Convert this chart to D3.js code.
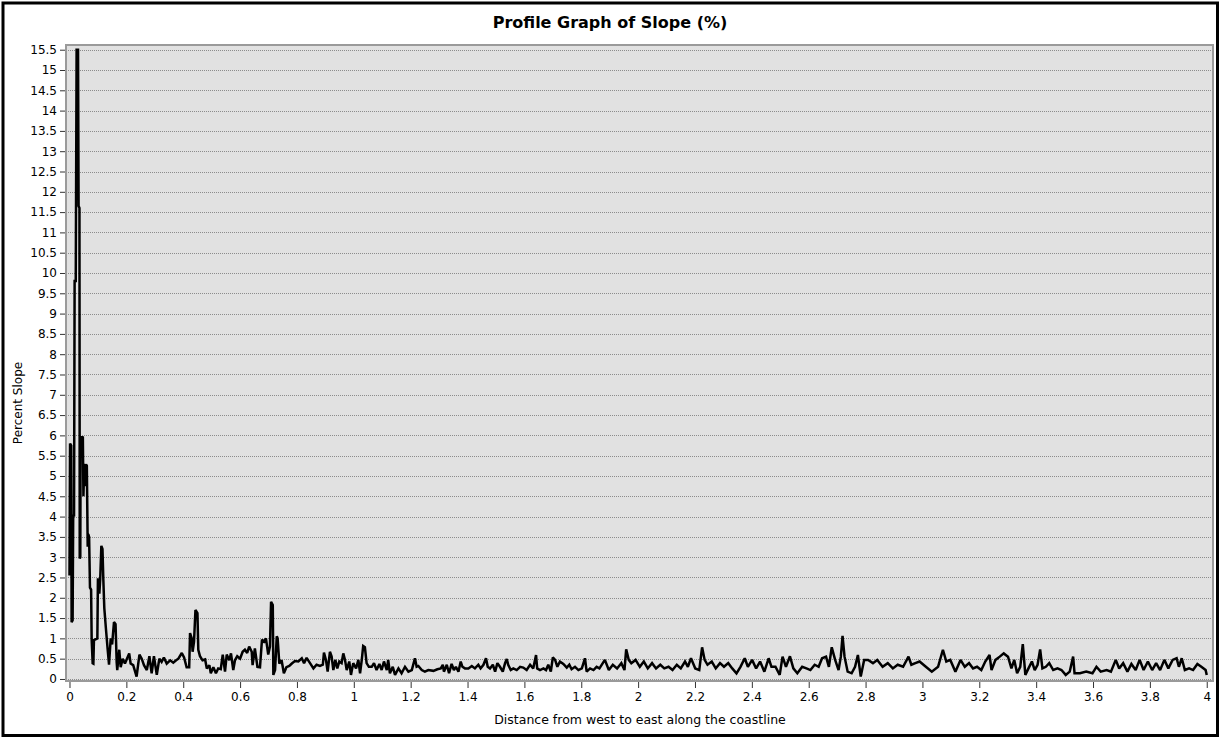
<!DOCTYPE html>
<html>
<head>
<meta charset="utf-8">
<script src="https://cdn.jsdelivr.net/npm/d3@7"></script>
<style>
  html, body { margin: 0; padding: 0; background: #ffffff; }
  svg { display: block; }
  text { font-family: "DejaVu Sans", Verdana, sans-serif; }
</style>
</head>
<body>
<div id="chart"></div>
<script>
// ---- Data ----
const chartTitle = "Profile Graph of Slope (%)";
const xLabel = "Distance from west to east along the coastline";
const yLabel = "Percent Slope";

const xTicks = [0, 0.2, 0.4, 0.6, 0.8, 1, 1.2, 1.4, 1.6, 1.8, 2, 2.2, 2.4, 2.6, 2.8, 3, 3.2, 3.4, 3.6, 3.8, 4];
const yTicks = [0, 0.5, 1, 1.5, 2, 2.5, 3, 3.5, 4, 4.5, 5, 5.5, 6, 6.5, 7, 7.5, 8, 8.5, 9, 9.5, 10, 10.5, 11, 11.5, 12, 12.5, 13, 13.5, 14, 14.5, 15, 15.5];

const distance = [
  0.000, 0.002, 0.006, 0.0075, 0.011, 0.013, 0.016, 0.018, 0.022, 0.025, 0.030, 0.032, 0.035, 0.036, 0.038, 0.039,
  0.047, 0.049, 0.052, 0.0545, 0.058, 0.061, 0.064, 0.066, 0.069, 0.072, 0.076, 0.078, 0.0815, 0.084, 0.086, 0.098,
  0.100, 0.105, 0.108, 0.112, 0.116, 0.119, 0.1225, 0.128, 0.134, 0.139, 0.145, 0.150, 0.1565, 0.162, 0.166, 0.168,
  0.175, 0.180, 0.187, 0.195, 0.201, 0.210, 0.215, 0.224, 0.236, 0.246, 0.254, 0.262, 0.272, 0.281, 0.289, 0.297,
  0.307, 0.316, 0.324, 0.332, 0.342, 0.354, 0.365, 0.375, 0.383, 0.395, 0.403, 0.412, 0.421, 0.424, 0.430, 0.433,
  0.438, 0.443, 0.450, 0.453, 0.459, 0.468, 0.477, 0.483, 0.492, 0.497, 0.506, 0.515, 0.523, 0.532, 0.539, 0.547,
  0.553, 0.562, 0.568, 0.576, 0.582, 0.590, 0.600, 0.609, 0.617, 0.625, 0.632, 0.641, 0.644, 0.652, 0.661, 0.670,
  0.677, 0.684, 0.691, 0.699, 0.705, 0.709, 0.715, 0.717, 0.723, 0.729, 0.732, 0.738, 0.746, 0.754, 0.763, 0.773,
  0.782, 0.793, 0.805, 0.817, 0.825, 0.834, 0.846, 0.858, 0.869, 0.881, 0.891, 0.895, 0.902, 0.908, 0.916, 0.922,
  0.928, 0.935, 0.942, 0.949, 0.957, 0.963, 0.969, 0.975, 0.984, 0.990, 0.998, 1.008, 1.016, 1.022, 1.028, 1.033,
  1.039, 1.045, 1.053, 1.063, 1.071, 1.080, 1.090, 1.098, 1.106, 1.116, 1.121, 1.127, 1.137, 1.145, 1.157, 1.168,
  1.180, 1.192, 1.204, 1.215, 1.221, 1.227, 1.239, 1.250, 1.262, 1.280, 1.294, 1.306, 1.313, 1.317, 1.327, 1.335,
  1.344, 1.352, 1.359, 1.368, 1.376, 1.382, 1.391, 1.403, 1.415, 1.426, 1.438, 1.446, 1.456, 1.465, 1.471, 1.479,
  1.489, 1.497, 1.505, 1.514, 1.524, 1.532, 1.538, 1.543, 1.552, 1.561, 1.573, 1.585, 1.596, 1.608, 1.620, 1.631,
  1.641, 1.645, 1.655, 1.667, 1.676, 1.684, 1.693, 1.700, 1.708, 1.716, 1.725, 1.737, 1.749, 1.758, 1.766, 1.778,
  1.790, 1.802, 1.813, 1.819, 1.831, 1.843, 1.854, 1.864, 1.883, 1.897, 1.911, 1.926, 1.941, 1.952, 1.958, 1.967,
  1.976, 1.991, 2.006, 2.020, 2.034, 2.049, 2.063, 2.078, 2.092, 2.107, 2.121, 2.136, 2.150, 2.165, 2.175, 2.186,
  2.201, 2.215, 2.225, 2.234, 2.244, 2.259, 2.273, 2.288, 2.302, 2.317, 2.331, 2.346, 2.360, 2.375, 2.386, 2.401,
  2.415, 2.429, 2.444, 2.459, 2.469, 2.483, 2.498, 2.508, 2.520, 2.534, 2.546, 2.560, 2.577, 2.592, 2.606, 2.621,
  2.635, 2.647, 2.661, 2.671, 2.681, 2.693, 2.705, 2.713, 2.719, 2.726, 2.737, 2.751, 2.763, 2.773, 2.783, 2.795,
  2.809, 2.826, 2.841, 2.860, 2.878, 2.896, 2.913, 2.932, 2.951, 2.961, 2.975, 2.990, 3.012, 3.033, 3.055, 3.072,
  3.084, 3.098, 3.116, 3.134, 3.149, 3.164, 3.178, 3.192, 3.207, 3.221, 3.236, 3.243, 3.257, 3.272, 3.286, 3.301,
  3.313, 3.323, 3.333, 3.344, 3.353, 3.362, 3.373, 3.385, 3.395, 3.405, 3.414, 3.422, 3.434, 3.446, 3.460, 3.475,
  3.489, 3.504, 3.518, 3.530, 3.535, 3.554, 3.576, 3.598, 3.612, 3.627, 3.648, 3.663, 3.680, 3.692, 3.706, 3.721,
  3.735, 3.750, 3.764, 3.778, 3.793, 3.808, 3.822, 3.836, 3.851, 3.865, 3.880, 3.894, 3.902, 3.912, 3.923, 3.938,
  3.952, 3.967, 3.981, 3.996, 4.000
];

const slope = [
  2.55, 5.8, 5.75, 1.4, 1.45, 4.05, 4.0, 9.8, 9.8, 15.5, 15.5, 11.65, 11.6, 2.97, 3.0, 5.97,
  5.95, 4.5, 5.3, 4.75, 5.29, 5.25, 3.26, 3.57, 3.5, 2.25, 2.2, 0.96, 0.39, 0.38, 0.96, 1.0,
  2.48, 2.1, 2.45, 3.28, 3.2, 2.45, 1.74, 1.25, 0.75, 0.35, 1.0, 0.85, 1.4, 1.35, 0.4, 0.22,
  0.72, 0.29, 0.5, 0.38, 0.48, 0.63, 0.38, 0.34, 0.06, 0.6, 0.5, 0.34, 0.22, 0.56, 0.14, 0.56,
  0.1, 0.5, 0.42, 0.53, 0.38, 0.46, 0.4, 0.46, 0.5, 0.64, 0.53, 0.29, 0.29, 1.13, 1.0, 0.67,
  0.92, 1.7, 1.62, 0.72, 0.56, 0.46, 0.48, 0.26, 0.34, 0.14, 0.29, 0.14, 0.26, 0.24, 0.6, 0.18,
  0.6, 0.46, 0.63, 0.22, 0.46, 0.56, 0.5, 0.67, 0.72, 0.64, 0.8, 0.67, 0.34, 0.75, 0.3, 0.29,
  0.97, 0.92, 1.0, 0.6, 0.8, 1.9, 1.82, 0.1, 0.22, 1.05, 1.0, 0.38, 0.46, 0.14, 0.29, 0.32,
  0.38, 0.44, 0.43, 0.51, 0.39, 0.52, 0.39, 0.26, 0.35, 0.32, 0.35, 0.65, 0.47, 0.18, 0.67, 0.55,
  0.22, 0.47, 0.26, 0.43, 0.39, 0.63, 0.47, 0.22, 0.43, 0.10, 0.39, 0.26, 0.47, 0.14, 0.47, 0.81,
  0.78, 0.39, 0.30, 0.30, 0.39, 0.22, 0.37, 0.22, 0.43, 0.22, 0.47, 0.14, 0.30, 0.10, 0.26, 0.14,
  0.30, 0.18, 0.22, 0.51, 0.30, 0.32, 0.22, 0.18, 0.22, 0.20, 0.24, 0.26, 0.35, 0.18, 0.35, 0.14,
  0.37, 0.22, 0.30, 0.18, 0.43, 0.30, 0.26, 0.26, 0.32, 0.26, 0.35, 0.26, 0.35, 0.51, 0.30, 0.26,
  0.35, 0.18, 0.39, 0.30, 0.18, 0.39, 0.49, 0.35, 0.22, 0.26, 0.22, 0.30, 0.28, 0.22, 0.35, 0.26,
  0.59, 0.26, 0.22, 0.26, 0.22, 0.35, 0.18, 0.53, 0.47, 0.30, 0.43, 0.37, 0.28, 0.35, 0.24, 0.30,
  0.22, 0.26, 0.51, 0.18, 0.26, 0.22, 0.30, 0.26, 0.47, 0.22, 0.35, 0.26, 0.39, 0.22, 0.73, 0.47,
  0.39, 0.47, 0.30, 0.43, 0.26, 0.39, 0.26, 0.35, 0.26, 0.30, 0.22, 0.35, 0.26, 0.43, 0.30, 0.51,
  0.26, 0.22, 0.78, 0.47, 0.35, 0.43, 0.26, 0.39, 0.30, 0.39, 0.26, 0.14, 0.30, 0.51, 0.30, 0.47,
  0.26, 0.43, 0.18, 0.51, 0.30, 0.30, 0.10, 0.55, 0.30, 0.56, 0.26, 0.14, 0.30, 0.26, 0.22, 0.35,
  0.30, 0.51, 0.55, 0.30, 0.78, 0.47, 0.22, 0.55, 1.06, 0.55, 0.18, 0.14, 0.30, 0.59, 0.06, 0.47,
  0.47, 0.39, 0.47, 0.30, 0.39, 0.26, 0.35, 0.30, 0.55, 0.35, 0.39, 0.43, 0.30, 0.18, 0.30, 0.72,
  0.43, 0.47, 0.18, 0.47, 0.30, 0.39, 0.26, 0.30, 0.22, 0.43, 0.59, 0.22, 0.47, 0.55, 0.63, 0.55,
  0.26, 0.47, 0.14, 0.30, 0.86, 0.10, 0.26, 0.43, 0.22, 0.35, 0.73, 0.26, 0.30, 0.39, 0.22, 0.26,
  0.22, 0.10, 0.18, 0.55, 0.14, 0.14, 0.18, 0.14, 0.30, 0.18, 0.22, 0.18, 0.47, 0.26, 0.39, 0.18,
  0.37, 0.22, 0.47, 0.22, 0.43, 0.22, 0.39, 0.22, 0.47, 0.26, 0.47, 0.51, 0.30, 0.51, 0.22, 0.26,
  0.22, 0.37, 0.30, 0.22, 0.10
];

// ---- Layout ----
const W = 1225, H = 740;
const plot = { left: 66, top: 45, right: 1213, bottom: 681 };
const FONT = "'DejaVu Sans', Verdana, sans-serif";

const svg = d3.select("#chart").append("svg")
  .attr("width", W).attr("height", H);

svg.append("rect").attr("x", 0).attr("y", 0).attr("width", W).attr("height", H).attr("fill", "#ffffff");

// outer frame
svg.append("rect")
  .attr("x", 3).attr("y", 3).attr("width", 1214.5).attr("height", 732.5)
  .attr("fill", "none").attr("stroke", "#000").attr("stroke-width", 3);

const x = d3.scaleLinear().domain([-0.0123, 4.022]).range([plot.left, plot.right]);
const y = d3.scaleLinear().domain([-0.05, 15.616]).range([plot.bottom, plot.top]);

// plot background
svg.append("rect")
  .attr("x", plot.left).attr("y", plot.top)
  .attr("width", plot.right - plot.left).attr("height", plot.bottom - plot.top)
  .attr("fill", "#e1e1e1");

// gridlines
svg.append("g").selectAll("line").data(yTicks).join("line")
  .attr("x1", plot.left).attr("x2", plot.right)
  .attr("y1", d => Math.round(y(d)) + 0.5).attr("y2", d => Math.round(y(d)) + 0.5)
  .attr("stroke", "#8c8c8c").attr("stroke-width", 1).attr("stroke-dasharray", "1,1");

// line
const pts = distance.map((d, i) => [d, slope[i]]);
const line = d3.line().x(d => x(d[0])).y(d => y(d[1]));
svg.append("path")
  .datum(pts)
  .attr("d", line)
  .attr("fill", "none").attr("stroke", "#000").attr("stroke-width", 2.5)
  .attr("stroke-linejoin", "miter").attr("stroke-miterlimit", 2);

// plot border
svg.append("rect")
  .attr("x", plot.left).attr("y", plot.top)
  .attr("width", plot.right - plot.left).attr("height", plot.bottom - plot.top)
  .attr("fill", "none").attr("stroke", "#9a9a9a").attr("stroke-width", 2);

const fmt = d => String(+d.toFixed(1));

// y axis
const yAxis = svg.append("g").attr("transform", `translate(${plot.left - 1},0)`)
  .call(d3.axisLeft(y).tickValues(yTicks).tickFormat(fmt).tickSize(5).tickPadding(3));
yAxis.select(".domain").remove();
yAxis.selectAll("line").attr("stroke", "#333");
yAxis.selectAll("text").attr("font-size", 12).attr("fill", "#000").attr("font-family", FONT);

// x axis
const xAxis = svg.append("g").attr("transform", `translate(0,${plot.bottom + 1})`)
  .call(d3.axisBottom(x).tickValues(xTicks).tickFormat(fmt).tickSize(6).tickPadding(4));
xAxis.select(".domain").remove();
xAxis.selectAll("line").attr("stroke", "#333");
xAxis.selectAll("text").attr("font-size", 12).attr("fill", "#000").attr("font-family", FONT);

// title
svg.append("text")
  .attr("x", 610).attr("y", 28)
  .attr("text-anchor", "middle").attr("font-size", 16).attr("font-weight", "bold")
  .attr("font-family", FONT)
  .text(chartTitle);

// axis labels
svg.append("text")
  .attr("x", 640).attr("y", 724)
  .attr("text-anchor", "middle").attr("font-size", 12.5).attr("font-family", FONT)
  .text(xLabel);

svg.append("text")
  .attr("transform", `translate(22,403) rotate(-90)`)
  .attr("text-anchor", "middle").attr("font-size", 12).attr("font-family", FONT)
  .text(yLabel);
</script>
</body>
</html>
